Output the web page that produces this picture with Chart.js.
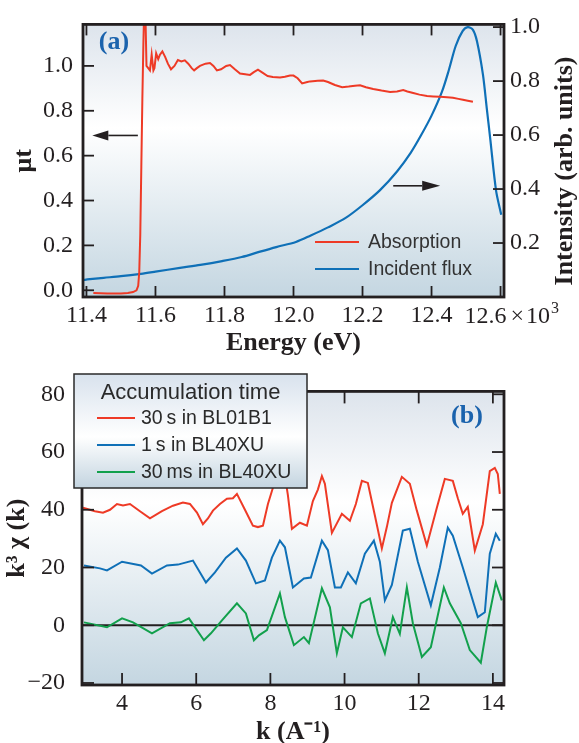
<!DOCTYPE html>
<html><head><meta charset="utf-8">
<script src="https://cdn.jsdelivr.net/npm/chart.js@4/dist/chart.umd.min.js"></script>
<style>
html,body{margin:0;padding:0;background:#fff;width:579px;height:743px;overflow:hidden}
#c1{position:absolute;left:0;top:0}
#c2{position:absolute;left:0;top:360px}
</style></head><body>
<canvas id="c1" width="579" height="360"></canvas>
<canvas id="c2" width="579" height="383"></canvas>
<script>
// ---------- DATA: panel (a) ----------
const energyTicks = [11.4, 11.6, 11.8, 12.0, 12.2, 12.4, 12.6];
const muTicks = [0.0, 0.2, 0.4, 0.6, 0.8, 1.0];
const intensityTicks = [0.2, 0.4, 0.6, 0.8, 1.0];

const absEnergy = [11.420,11.440,11.460,11.480,11.500,11.520,11.535,11.545,11.550,11.553,11.556,11.559,11.562,11.565,11.568,11.571,11.574,11.579,11.584,11.589,11.594,11.597,11.602,11.608,11.613,11.620,11.628,11.636,11.645,11.655,11.665,11.675,11.685,11.695,11.705,11.712,11.720,11.729,11.745,11.758,11.768,11.778,11.790,11.805,11.816,11.830,11.845,11.860,11.874,11.885,11.897,11.910,11.925,11.940,11.961,11.975,11.990,12.000,12.012,12.025,12.040,12.048,12.070,12.086,12.100,12.120,12.141,12.160,12.178,12.193,12.210,12.231,12.255,12.280,12.300,12.318,12.330,12.347,12.365,12.387,12.405,12.425,12.445,12.462,12.478,12.491,12.505,12.520];
const absMu = [-0.012,-0.013,-0.014,-0.014,-0.014,-0.012,-0.008,0.000,0.02,0.08,0.25,0.55,0.85,1.10,1.30,1.22,1.00,0.99,0.98,1.05,0.98,0.99,1.056,1.03,1.05,1.065,1.04,1.01,0.985,1.00,1.026,1.02,1.025,1.01,0.99,0.98,0.99,1.00,1.01,1.013,1.0,0.98,0.985,1.0,1.004,0.985,0.966,0.963,0.96,0.972,0.983,0.97,0.955,0.951,0.948,0.952,0.957,0.957,0.945,0.922,0.928,0.931,0.934,0.935,0.928,0.915,0.905,0.908,0.912,0.914,0.905,0.897,0.89,0.884,0.886,0.892,0.886,0.879,0.872,0.866,0.864,0.862,0.86,0.858,0.853,0.849,0.845,0.84];

const fluxEnergy = [11.392,11.402,11.450,11.500,11.558,11.600,11.671,11.730,11.793,11.850,11.903,11.950,12.007,12.050,12.100,12.150,12.200,12.250,12.300,12.340,12.370,12.400,12.430,12.450,12.470,12.490,12.505,12.520,12.532,12.549,12.560,12.570,12.587,12.602];
const fluxIntensity = [0.063,0.065,0.071,0.077,0.086,0.094,0.108,0.119,0.133,0.148,0.168,0.185,0.204,0.228,0.258,0.292,0.340,0.395,0.465,0.535,0.600,0.672,0.760,0.840,0.930,0.985,1.0,0.99,0.946,0.824,0.70,0.588,0.394,0.305];

// ---------- DATA: panel (b) ----------
const kTicks = [4, 6, 8, 10, 12, 14];
const chiTicks = [-20, 0, 20, 40, 60, 80];

const k30s = [2.947,3.27,3.486,3.675,3.863,4.025,4.214,4.483,4.753,5.076,5.373,5.642,5.831,6.02,6.181,6.316,6.451,6.64,6.828,6.99,7.098,7.314,7.529,7.664,7.799,7.934,8.068,8.257,8.365,8.473,8.58,8.796,8.985,9.146,9.281,9.389,9.47,9.659,9.928,10.144,10.305,10.467,10.629,10.818,11.006,11.14,11.276,11.545,11.761,11.95,12.219,12.489,12.704,12.92,13.055,13.189,13.324,13.513,13.729,13.917,14.052,14.133,14.187];
const chi30s = [40.7,39.5,39,40,42,41.5,42,39.5,37,39.5,41.4,42.5,42,39,35,37,39.7,42,43.8,44,45.5,40,34.5,34,34.5,42,47.6,52,54,45,33.4,35.5,34.5,43,47,51.7,49,32,38.6,36.2,42,50,49.3,38,26.6,34,42.4,51.4,49,39.7,27.6,40.7,50.7,50,44,38.6,41,25.9,35,53.4,54.5,52.4,45.5];

const k1s = [2.974,3.405,3.594,4.0,4.51,4.807,5.211,5.508,5.912,6.262,6.505,6.801,7.098,7.34,7.61,7.853,8.041,8.257,8.392,8.607,8.904,9.092,9.389,9.551,9.74,9.901,10.09,10.305,10.548,10.791,10.952,11.087,11.276,11.572,11.761,11.977,12.327,12.57,12.785,12.92,13.189,13.594,13.783,13.917,14.079,14.187];
const chi1s = [20.7,19.7,19,22,20.7,17.9,20.7,21,22.4,14.8,18.3,23.4,26.6,22.4,14.5,15.5,23.4,29.3,27,13.1,16.2,16.5,29.3,26,13.1,13.1,18.3,14.5,24.8,29.3,22,8.6,14,32.8,33.4,22,6.9,20,33.8,31,20,2.8,4.5,24.8,31.7,29.3];

const k30ms = [2.974,3.594,4.0,4.296,4.807,5.292,5.588,5.804,6.208,6.397,6.694,7.098,7.34,7.556,7.691,7.907,8.257,8.392,8.634,8.904,9.039,9.389,9.605,9.793,9.955,10.198,10.44,10.683,10.898,11.087,11.303,11.491,11.68,11.842,12.085,12.327,12.678,12.839,13.136,13.378,13.675,13.836,14.079,14.241];
const chi30ms = [1,-0.7,2.4,1,-2.8,0.7,1,2.4,-5.2,-2.8,1.7,7.6,4.1,-5.2,-3.5,-1.7,11,2.8,-6.9,-4.1,-6.2,12.8,6.2,-9.7,-0.7,-4.1,7.6,9.3,-2.8,-9.7,2.8,-3,13.1,0.7,-11,-7.6,13.1,7.6,0.7,-8.6,-13,-0.7,14.8,8.6];

// ---------- helpers ----------
const INK = '#231f20';
const RED = '#ee3a26', BLUE = '#0f70b7', GREEN = '#12a04c';
const SERIF = "'Liberation Serif', 'Times New Roman', serif";
const SANS = "'Liberation Sans', Arial, sans-serif";
const pts = (xs, ys) => xs.map((x, i) => ({x, y: ys[i]}));
const fixTicks = arr => (s => { s.ticks = arr.map(v => ({value: v})); });

const framePlugin = {
  id: 'frame',
  beforeDraw(chart, args, o) {
    const {ctx, chartArea: a} = chart;
    const g = ctx.createLinearGradient(0, a.top, 0, a.bottom);
    o.stops.forEach(s => g.addColorStop(s[0], s[1]));
    ctx.save(); ctx.fillStyle = g;
    ctx.fillRect(a.left, a.top, a.right - a.left, a.bottom - a.top);
    ctx.restore();
  },
  beforeDatasetsDraw(chart, args, o) {
    if (o.zeroLine == null) return;
    const {ctx, chartArea: a} = chart;
    const y = chart.scales[o.zeroLine.scale].getPixelForValue(o.zeroLine.value);
    ctx.save(); ctx.strokeStyle = INK; ctx.lineWidth = 2;
    ctx.beginPath(); ctx.moveTo(a.left, y); ctx.lineTo(a.right, y); ctx.stroke();
    ctx.restore();
  },
  afterDatasetsDraw(chart, args, o) {
    const {ctx, chartArea: a} = chart;
    const L = o.tickLen;
    ctx.save();
    ctx.strokeStyle = INK; ctx.lineWidth = 1.8;
    for (const spec of o.marks) {
      const s = chart.scales[spec.scale];
      for (const t of s.ticks) {
        const p = s.getPixelForValue(t.value);
        for (const side of spec.sides) {
          ctx.beginPath();
          if (side === 'bottom') { ctx.moveTo(p, a.bottom); ctx.lineTo(p, a.bottom - L); }
          if (side === 'top') { ctx.moveTo(p, a.top); ctx.lineTo(p, a.top + L); }
          if (side === 'left') { ctx.moveTo(a.left, p); ctx.lineTo(a.left + L, p); }
          if (side === 'right') { ctx.moveTo(a.right, p); ctx.lineTo(a.right - L, p); }
          ctx.stroke();
        }
      }
    }
    ctx.lineWidth = 2.8;
    ctx.strokeRect(a.left, a.top, a.right - a.left, a.bottom - a.top);
    ctx.restore();
  }
};

function arrow(ctx, x1, y, x2, head, half) {
  const dir = Math.sign(x2 - x1);
  ctx.beginPath(); ctx.moveTo(x1, y); ctx.lineTo(x2 - dir * head, y); ctx.stroke();
  ctx.beginPath(); ctx.moveTo(x2, y); ctx.lineTo(x2 - dir * head, y - half); ctx.lineTo(x2 - dir * head, y + half); ctx.closePath(); ctx.fill();
}

const bgStops = [[0, '#dde4ec'], [0.38, '#ffffff'], [1, '#c4d6e1']];

// ---------- chart (a) ----------
const annotA = {
  id: 'annotA',
  afterDraw(chart) {
    const {ctx, chartArea: a, scales} = chart;
    ctx.save();
    ctx.fillStyle = '#1b63ad'; ctx.font = "bold 26px " + SERIF;
    ctx.textAlign = 'center'; ctx.textBaseline = 'middle';
    ctx.fillText('(a)', 114, 42);
    ctx.strokeStyle = INK; ctx.fillStyle = INK; ctx.lineWidth = 1.6;
    const yMu = scales.y.getPixelForValue(0.69);
    arrow(ctx, scales.x.getPixelForValue(11.549), yMu, scales.x.getPixelForValue(11.417), 16, 5);
    const yI = scales.y2.getPixelForValue(0.412);
    arrow(ctx, scales.x.getPixelForValue(12.289), yI, scales.x.getPixelForValue(12.425), 18, 5);
    ctx.lineWidth = 2.2; ctx.textAlign = 'left'; ctx.textBaseline = 'middle';
    ctx.font = "19.5px " + SANS;
    [[RED, 'Absorption', 242], [BLUE, 'Incident flux', 269]].forEach(([c, t, y]) => {
      ctx.strokeStyle = c; ctx.beginPath(); ctx.moveTo(315, y); ctx.lineTo(359, y); ctx.stroke();
      ctx.fillStyle = '#333'; ctx.fillText(t, 368, y + 1);
    });
    // last x tick label with multiplier
    const last = energyTicks[energyTicks.length - 1];
    const px = scales.x.getPixelForValue(last);
    ctx.fillStyle = INK; ctx.font = "24px " + SERIF; ctx.textBaseline = 'alphabetic';
    const base = a.bottom + 26;
    ctx.textAlign = 'right';
    ctx.fillText(last.toFixed(1), px + 6, base);
    ctx.textAlign = 'left';
    const mult = '\u00d7\u200a10';
    const x0 = px + 10;
    ctx.fillText(mult, x0, base);
    const w = ctx.measureText(mult).width;
    ctx.font = "16px " + SERIF;
    ctx.fillText('3', x0 + w + 1, base - 10);
    ctx.save();
    ctx.translate(565, 171); ctx.rotate(-Math.PI / 2);
    ctx.font = "bold 26px " + SERIF; ctx.textAlign = 'center'; ctx.textBaseline = 'middle';
    ctx.fillText('Intensity (arb. units)', 0, 0);
    ctx.restore();
    ctx.restore();
  }
};

new Chart(document.getElementById('c1'), {
  type: 'line',
  data: {
    datasets: [
      {label: 'Absorption', data: pts(absEnergy, absMu), yAxisID: 'y', borderColor: RED, borderWidth: 2, pointRadius: 0, tension: 0},
      {label: 'Incident flux', data: pts(fluxEnergy, fluxIntensity), yAxisID: 'y2', borderColor: BLUE, borderWidth: 2.2, pointRadius: 0, tension: 0.3}
    ]
  },
  options: {
    responsive: false, animation: false, devicePixelRatio: 1,
    layout: {padding: {top: 15, left: 0, right: 0, bottom: 0}},
    plugins: {
      legend: {display: false}, tooltip: {enabled: false},
      frame: {stops: bgStops, tickLen: 11, marks: [
        {scale: 'x', sides: ['bottom', 'top']}, {scale: 'y', sides: ['left']}, {scale: 'y2', sides: ['right']}]}
    },
    scales: {
      x: {type: 'linear', position: 'bottom', min: 11.39, max: 12.61,
        afterBuildTicks: fixTicks(energyTicks), afterFit: s => { s.height = 63; },
        grid: {display: false, drawTicks: false}, border: {display: false},
        ticks: {padding: 4, color: INK, font: {family: SERIF, size: 24}, maxRotation: 0, autoSkip: false,
          callback: (v, i, arr) => i === arr.length - 1 ? '' : v.toFixed(1)},
        title: {display: true, text: 'Energy (eV)', color: INK, font: {family: SERIF, size: 26, weight: 'bold'}, padding: {top: 0, bottom: 1}}
      },
      y: {type: 'linear', position: 'left', min: -0.03, max: 1.185,
        afterBuildTicks: fixTicks(muTicks), afterFit: s => { s.width = 83; },
        grid: {display: false, drawTicks: false}, border: {display: false},
        ticks: {padding: 10, color: INK, font: {family: SERIF, size: 24}, callback: v => v.toFixed(1)},
        title: {display: true, text: '\u03bct', color: INK, font: {family: SERIF, size: 26, weight: 'bold'}, padding: {top: 9, bottom: 0}}
      },
      y2: {type: 'linear', position: 'right', min: 0, max: 1.01,
        afterBuildTicks: fixTicks(intensityTicks), afterFit: s => { s.width = 75; },
        grid: {display: false, drawTicks: false}, border: {display: false},
        ticks: {padding: 6, color: INK, font: {family: SERIF, size: 24}, callback: v => v.toFixed(1)}
      }
    }
  },
  plugins: [framePlugin, annotA]
});

// ---------- chart (b) ----------
const annotB = {
  id: 'annotB',
  afterDraw(chart) {
    const {ctx} = chart;
    ctx.save();
    ctx.fillStyle = '#1b63ad'; ctx.font = "bold 26px " + SERIF;
    ctx.textAlign = 'center'; ctx.textBaseline = 'middle';
    ctx.fillText('(b)', 467, 56);
    const bx = 74, by = 14, bw = 233, bh = 114;
    const g = ctx.createLinearGradient(0, by, 0, by + bh);
    g.addColorStop(0, '#d8e2ed'); g.addColorStop(0.55, '#ffffff'); g.addColorStop(1, '#c3d4e0');
    ctx.fillStyle = g; ctx.fillRect(bx, by, bw, bh);
    ctx.strokeStyle = '#2a2a2a'; ctx.lineWidth = 1.5; ctx.strokeRect(bx, by, bw, bh);
    ctx.fillStyle = '#2a2a2a'; ctx.font = "22px " + SANS;
    ctx.fillText('Accumulation time', bx + bw / 2, 33);
    ctx.textAlign = 'left'; ctx.font = "19.5px " + SANS;
    chart.data.datasets.forEach((d, i) => {
      const y = 58 + i * 27;
      ctx.strokeStyle = d.borderColor; ctx.lineWidth = 2.2;
      ctx.beginPath(); ctx.moveTo(97, y); ctx.lineTo(135, y); ctx.stroke();
      ctx.fillText(d.label, 141, y + 1);
    });
    ctx.restore();
  }
};

new Chart(document.getElementById('c2'), {
  type: 'line',
  data: {
    datasets: [
      {label: '30\u2009s in BL01B1', data: pts(k30s, chi30s), borderColor: RED, borderWidth: 2, pointRadius: 0, tension: 0},
      {label: '1\u2009s in BL40XU', data: pts(k1s, chi1s), borderColor: BLUE, borderWidth: 2, pointRadius: 0, tension: 0},
      {label: '30\u2009ms in BL40XU', data: pts(k30ms, chi30ms), borderColor: GREEN, borderWidth: 2, pointRadius: 0, tension: 0}
    ]
  },
  options: {
    responsive: false, animation: false, devicePixelRatio: 1,
    layout: {padding: {top: 30, left: 0, right: 75, bottom: 0}},
    plugins: {
      legend: {display: false}, tooltip: {enabled: false},
      frame: {stops: bgStops, tickLen: 12, zeroLine: {scale: 'y', value: 0}, marks: [
        {scale: 'x', sides: ['bottom', 'top']}, {scale: 'y', sides: ['left', 'right']}]}
    },
    scales: {
      x: {type: 'linear', position: 'bottom', min: 2.92, max: 14.3,
        afterBuildTicks: fixTicks(kTicks), afterFit: s => { s.height = 58; },
        grid: {display: false, drawTicks: false}, border: {display: false},
        ticks: {padding: 4, color: INK, font: {family: SERIF, size: 24}, maxRotation: 0, autoSkip: false},
        title: {display: true, text: 'k (A\u207b\u00b9)', color: INK, font: {family: SERIF, size: 26, weight: 'bold', lineHeight: 0.85}, padding: {top: 0, bottom: 0}}
      },
      y: {type: 'linear', position: 'left', min: -20.7, max: 81,
        afterBuildTicks: fixTicks(chiTicks), afterFit: s => { s.width = 82; },
        grid: {display: false, drawTicks: false}, border: {display: false},
        ticks: {padding: 17, color: INK, font: {family: SERIF, size: 24}, callback: v => v < 0 ? '\u2212' + Math.abs(v) : String(v)},
        title: {display: true, text: 'k\u00b3 \u03c7 (k)', color: INK, font: {family: SERIF, size: 26, weight: 'bold'}, padding: {top: 2, bottom: 0}}
      }
    }
  },
  plugins: [framePlugin, annotB]
});
</script>
</body></html>
